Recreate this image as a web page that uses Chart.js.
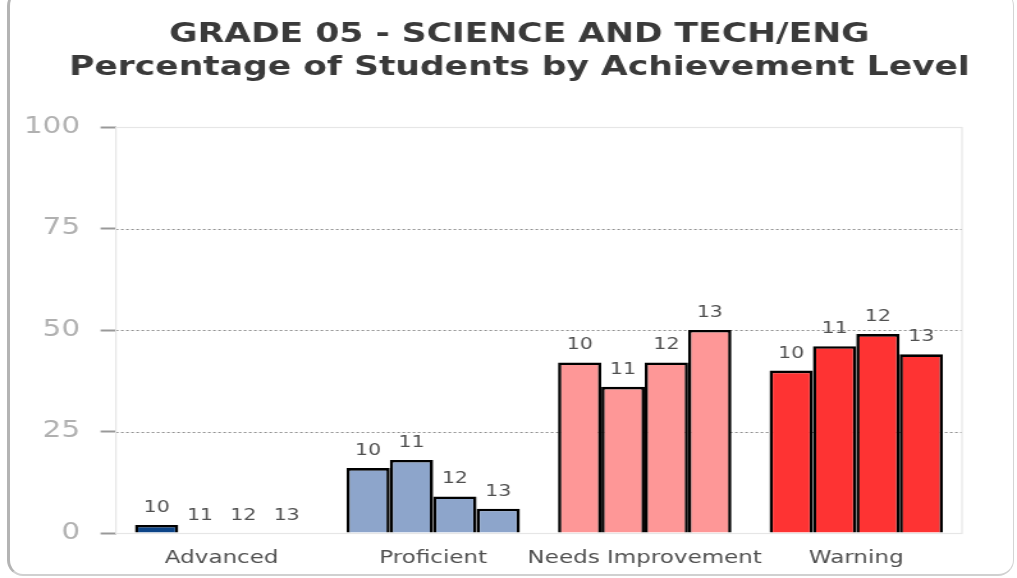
<!DOCTYPE html>
<html>
<head>
<meta charset="utf-8">
<script src="https://cdn.jsdelivr.net/npm/chart.js@4/dist/chart.umd.min.js"></script>
<style>
  html, body { margin: 0; padding: 0; background: #fff; }
  #stage { position: relative; width: 1017px; height: 578px; overflow: hidden; background: #fff; }
  #wrap { position: absolute; left: 0; top: 0; width: 795px; height: 578px; transform: scaleX(1.27925); transform-origin: 0 0; }
  #frame { position: absolute; left: 7px; top: -10px; width: 1003px; height: 584px;
           border-left: 3px solid #b4b4b4; border-right: 1px solid #d4d4d4; border-bottom: 2px solid #d0d0d0; border-top: none;
           border-radius: 16px; pointer-events: none; }
</style>
</head>
<body>
<div id="stage">
  <div id="wrap"><canvas id="c" width="795" height="578"></canvas></div>
  <div id="frame"></div>
</div>
<script>
const titleLines = ['GRADE 05 - SCIENCE AND TECH/ENG', 'Percentage of Students by Achievement Level'];
const categories = ['Advanced', 'Proficient', 'Needs Improvement', 'Warning'];
const seriesNames = ['10', '11', '12', '13'];
const values10 = [2, 16, 42, 40];
const values11 = [0, 18, 36, 46];
const values12 = [0, 9, 42, 49];
const values13 = [0, 6, 50, 44];
const yTicks = [0, 25, 50, 75, 100];
const categoryColors = ['#0c4487', '#8da5cb', '#fe9797', '#fe3333'];

const allValues = [values10, values11, values12, values13];
const FONT = "'DejaVu Sans', Verdana, sans-serif";

const datasets = seriesNames.map((name, i) => ({
  label: name,
  data: allValues[i],
  backgroundColor: categoryColors,
  borderColor: '#000',
  borderWidth: (ctx) => (ctx.raw === 0 ? 0 : 2.6),
  borderSkipped: 'start',
  categoryPercentage: 0.82,
  barPercentage: 1.0
}));

const framePlugin = {
  id: 'framePlugin',
  beforeDatasetsDraw(chart) {
    const { ctx, chartArea: a, scales: { y } } = chart;
    ctx.save();
    ctx.strokeStyle = '#8f8f8f';
    ctx.lineWidth = 1;
    ctx.setLineDash([2, 2]);
    yTicks.forEach(v => {
      if (v === 0 || v === 100) return;
      const py = Math.round(y.getPixelForValue(v)) + 0.5;
      ctx.beginPath();
      ctx.moveTo(a.left, py);
      ctx.lineTo(a.right, py);
      ctx.stroke();
    });
    ctx.setLineDash([]);
    ctx.strokeStyle = '#e6e6e6';
    ctx.lineWidth = 1.2;
    ctx.strokeRect(a.left, Math.round(a.top) + 0.5, a.right - a.left, a.bottom - a.top);
    ctx.restore();
  },
  afterDatasetsDraw(chart) {
    const { ctx } = chart;
    ctx.save();
    ctx.font = '16px ' + FONT;
    ctx.fillStyle = '#505050';
    ctx.textAlign = 'center';
    ctx.textBaseline = 'alphabetic';
    chart.data.datasets.forEach((ds, di) => {
      const meta = chart.getDatasetMeta(di);
      meta.data.forEach(bar => {
        ctx.fillText(ds.label, bar.x, bar.y - 13);
      });
    });
    ctx.font = 'bold 27px ' + FONT;
    ctx.fillStyle = '#3a3a3a';
    ctx.textBaseline = 'middle';
    ctx.fillText(titleLines[0], 406, 35);
    ctx.fillText(titleLines[1], 406, 68);
    ctx.restore();
  }
};

new Chart(document.getElementById('c'), {
  type: 'bar',
  data: { labels: categories, datasets },
  options: {
    responsive: false,
    devicePixelRatio: 1,
    animation: false,
    layout: { padding: { top: 127, right: 43, bottom: 0, left: 0 } },
    plugins: { legend: { display: false }, title: { display: false }, tooltip: { enabled: false } },
    scales: {
      x: {
        grid: { display: false },
        border: { display: false },
        ticks: { color: '#505050', font: { family: FONT, size: 18 }, padding: 7, maxRotation: 0, autoSkip: false },
        afterFit(scale) { scale.height = 45; }
      },
      y: {
        min: 0, max: 100,
        afterBuildTicks(scale) { scale.ticks = yTicks.map(v => ({ value: v })); },
        grid: { drawOnChartArea: false, drawTicks: true, tickLength: 12, tickColor: '#999', tickWidth: 2 },
        border: { display: false },
        ticks: { color: '#b0b0b0', font: { family: FONT, size: 23 }, padding: 16 },
        afterFit(scale) { scale.width = 90.6; }
      }
    }
  },
  plugins: [framePlugin]
});
</script>
</body>
</html>
